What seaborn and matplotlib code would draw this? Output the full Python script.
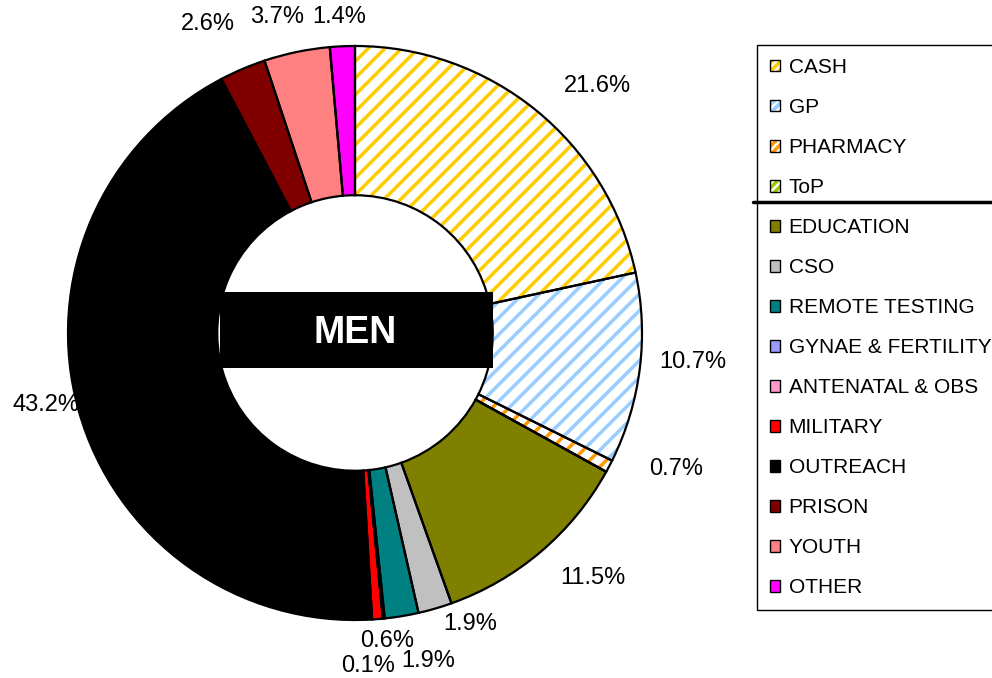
import numpy as np
import matplotlib
matplotlib.use("Agg")
import matplotlib.pyplot as plt
from matplotlib.patches import Patch, Rectangle
from matplotlib.lines import Line2D
import seaborn as sns

sns.set_theme(style="white")
plt.rcParams["font.family"] = ["Liberation Sans", "DejaVu Sans"]
plt.rcParams["text.color"] = "black"
plt.rcParams["hatch.linewidth"] = 2.5

# data
categories = ["CASH", "GP", "PHARMACY", "ToP", "EDUCATION", "CSO", "REMOTE TESTING",
              "GYNAE & FERTILITY", "ANTENATAL & OBS", "MILITARY", "OUTREACH",
              "PRISON", "YOUTH", "OTHER"]
shares = [21.6, 10.7, 0.7, 0.0, 11.5, 1.9, 1.9, 0.1, 0.0, 0.6, 43.2, 2.6, 3.7, 1.4]
title = "MEN"

colors = ["#FFCC00", "#99CCFF", "#FF9900", "#99CC00", "#808000", "#C0C0C0", "#008080",
          "#9999FF", "#FF99CC", "#FF0000", "#000000", "#800000", "#FF8080", "#FF00FF"]
hatched = [True, True, True, True] + [False] * 10

# label nudges in pixels (dx right, dy up) for the crowded labels
nudge = [(30, -17), (2, 12), (21, 21), (0, 0), (18, 13), (20, 34), (17, 6),
         (-22, 4), (0, 0), (4, 30), (17, 20), (-13, -2), (-7, -15), (1, -22)]

W, H = 992, 678
cx, cy, R = 355, 333, 287
fig = plt.figure(figsize=(W / 100, H / 100), dpi=100)
ax = fig.add_axes([0, 0, 1, 1])

face = ["white" if h else c for c, h in zip(colors, hatched)]
wedges, _ = ax.pie(shares, colors=face, startangle=90, counterclock=False,
                   radius=1, wedgeprops=dict(width=0.52, linewidth=0))
for w, c, h in zip(wedges, colors, hatched):
    if h:
        w.set_hatch("//")
        w.set_edgecolor(c)
# black outlines on top
ax.pie(shares, colors=["none"] * len(shares), startangle=90, counterclock=False,
       radius=1, wedgeprops=dict(width=0.52, edgecolor="black", linewidth=1.6,
                                 facecolor="none"))

ax.set_aspect("auto")
ax.set_xlim(-cx / R, (W - cx) / R)
ax.set_ylim(-(H - cy) / R, cy / R)
ax.axis("off")

# percentage labels
cum = np.cumsum([0] + shares[:-1])
for i, v in enumerate(shares):
    if v == 0:
        continue
    mid = np.deg2rad(90 - (cum[i] + v / 2) / 100 * 360)
    x, y = 1.18 * np.cos(mid), 1.18 * np.sin(mid)
    ax.annotate(f"{v:.1f}%", (x, y), xytext=nudge[i], textcoords="offset pixels",
                ha="center", va="center", fontsize=17, color="black",
                annotation_clip=False, zorder=0.5)

# centre label box
ax.add_patch(Rectangle((-0.47, -0.122), 0.95, 0.265, facecolor="black",
                       edgecolor="none", zorder=5))
ax.text(0.0, 0.0, title, ha="center", va="center", color="white",
        fontsize=27, fontweight="bold", zorder=6)

# legend
handles = []
for c, h in zip(colors, hatched):
    if h:
        handles.append((Patch(facecolor="white", edgecolor=c, hatch="////", linewidth=0),
                        Patch(facecolor="none", edgecolor="black", linewidth=1)))
    else:
        handles.append(Patch(facecolor=c, edgecolor="black", linewidth=1))
leg = fig.legend(handles, categories, loc="upper left",
                 bbox_to_anchor=(757 / W, 1 - 45 / H), borderaxespad=0,
                 fontsize=15, handlelength=0.5, handleheight=0.5,
                 handletextpad=0.4, labelspacing=1.01, borderpad=0.62,
                 frameon=True, fancybox=False, framealpha=1, labelcolor="black")
leg.get_frame().set_edgecolor("black")
leg.get_frame().set_linewidth(1)

# separator line across the legend
fig.add_artist(Line2D([753 / W, 1.0], [1 - 202 / H, 1 - 202 / H],
                      color="black", linewidth=2.5, zorder=10))

fig.savefig("out.png", dpi=100)
